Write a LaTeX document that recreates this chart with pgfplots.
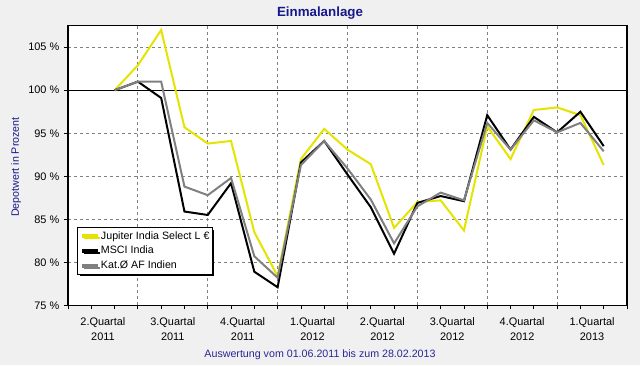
\documentclass[border=0pt]{standalone}
\usepackage{pgfplots}
\pgfplotsset{compat=1.18}
\usepackage{fontspec}
\setmainfont{Liberation Sans}
\usetikzlibrary{shadows}
\definecolor{bg}{RGB}{240,240,240}
\definecolor{yel}{RGB}{228,228,0}
\definecolor{gry}{RGB}{128,128,128}
\definecolor{navy}{RGB}{24,24,140}
\definecolor{navyb}{RGB}{40,40,150}
\begin{document}
\begin{tikzpicture}
\fill[bg] (-51pt,-44.775pt) rectangle (429pt,228.975pt);
\begin{axis}[
  at={(0pt,0pt)}, anchor=south west,
  scale only axis, width=419.25pt, height=209.7pt,
  xmin=0, xmax=24, ymin=75, ymax=107.5,
  axis background/.style={fill=white},
  axis line style={line width=1.1pt, black},
  font=\fontsize{8}{9.75}\selectfont,
  /pgf/number format/assume math mode=true,
  xtick={1.5,4.5,...,22.5},
  xticklabels={{2.Quartal\\2011},{3.Quartal\\2011},{4.Quartal\\2011},{1.Quartal\\2012},{2.Quartal\\2012},{3.Quartal\\2012},{4.Quartal\\2012},{1.Quartal\\2013}},
  xticklabel style={align=center, font=\fontsize{8.2}{11}\selectfont, yshift=-3pt},
  major x tick style={draw=none},
  minor xtick={0,1,...,24},
  minor x tick style={black, line width=0.6pt},
  minor tick length=3pt,
  extra x ticks={3,6,...,21},
  extra x tick labels={},
  extra x tick style={grid=major, major tick length=0pt, major grid style={gry, line width=0.75pt, dash pattern=on 2.25pt off 2.25pt}},
  ytick={75,80,...,105},
  yticklabels={75 \%,80 \%,85 \%,90 \%,95 \%,100 \%,105 \%},
  yticklabel style={font=\fontsize{8.2}{9.75}\selectfont},
  ymajorgrids,
  major grid style={gry, line width=0.75pt, dash pattern=on 2.25pt off 2.25pt},
  y tick style={black, line width=0.6pt},
  major tick length=3pt,
  tick align=outside,
  xtick pos=bottom, ytick pos=left,
  clip=false,
  legend cell align=left,
  legend style={at={(axis description cs:0.0161,0.280)}, anchor=north west,
    draw=black, line width=0.8pt, fill=white,
    drop shadow={shadow xshift=1.5pt, shadow yshift=-1.5pt, opacity=1, fill=black},
    font=\fontsize{8}{9.75}\selectfont,
    inner xsep=1.5pt, inner ysep=2pt, row sep=2.2pt,
    nodes={inner xsep=0.6pt, inner ysep=0.8pt}},
  legend image code/.code={\draw[#1, line width=3pt] (0pt,0pt) -- (12.5pt,0pt);},
]
\draw[black, line width=0.9pt] (axis cs:0,100) -- (axis cs:24,100);
\addplot[yel, line width=1.5pt] coordinates {
(2,100) (3,102.9) (4,107.0) (5,95.7) (6,93.8) (7,94.1) (8,83.5) (9,78.4) (10,92.0) (11,95.5) (12,93.1) (13,91.4) (14,84.0) (15,87.0) (16,87.2) (17,83.7) (18,95.8) (19,92.0) (20,97.7) (21,98.0) (22,97.1) (23,91.3)};
\addlegendentry{Jupiter India Select L €}
\addplot[black, line width=1.5pt] coordinates {
(2,100) (3,101.0) (4,99.1) (5,85.9) (6,85.5) (7,89.2) (8,78.9) (9,77.1) (10,91.6) (11,94.1) (12,90.2) (13,86.4) (14,81.0) (15,86.9) (16,87.7) (17,87.1) (18,97.1) (19,93.1) (20,96.9) (21,95.1) (22,97.5) (23,93.5)};
\addlegendentry{MSCI India}
\addplot[gry, line width=1.5pt] coordinates {
(2,100) (3,101.0) (4,101.0) (5,88.8) (6,87.8) (7,89.8) (8,80.7) (9,78.2) (10,91.3) (11,94.1) (12,90.9) (13,87.3) (14,82.2) (15,86.5) (16,88.1) (17,87.2) (18,96.2) (19,93.1) (20,96.5) (21,95.1) (22,96.2) (23,92.9)};
\addlegendentry{Kat.Ø AF Indien}
\end{axis}
\node[font=\bfseries\fontsize{10}{12}\selectfont, text=navy] at (189pt,219.5pt) {Einmalanlage};
\node[font=\fontsize{8}{9.75}\selectfont, text=navy, rotate=90] at (-39pt,103.7pt) {Depotwert in Prozent};
\node[font=\fontsize{8}{9.75}\selectfont, text=navyb] at (189pt,-37pt) {Auswertung vom 01.06.2011 bis zum 28.02.2013};
\pgfresetboundingbox
\path[use as bounding box] (-51pt,-44.775pt) rectangle (429pt,228.975pt);
\end{tikzpicture}
\end{document}
